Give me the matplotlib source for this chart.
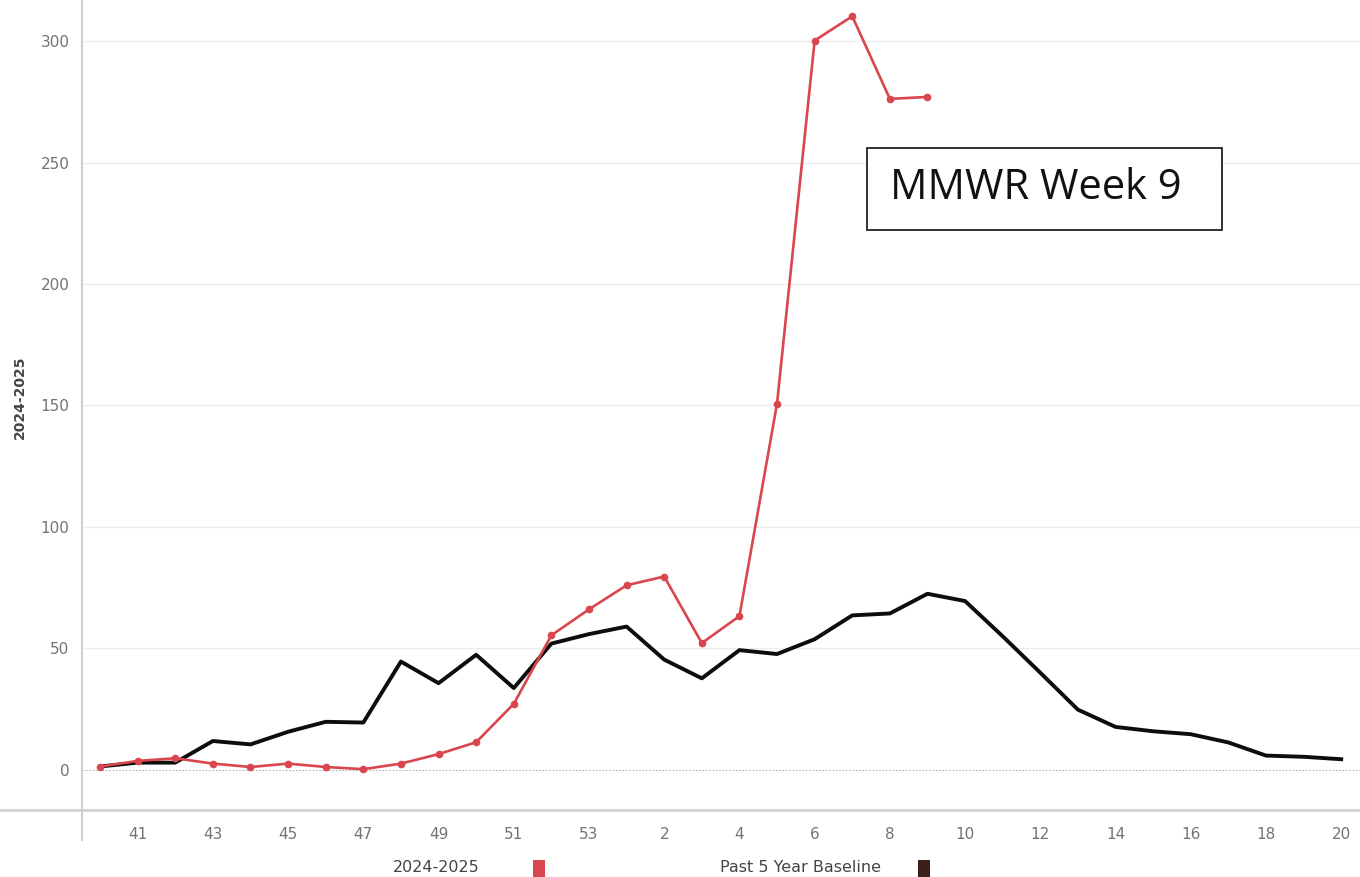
import numpy as np
import matplotlib.pyplot as plt
from matplotlib.lines import Line2D
from matplotlib.patches import Rectangle

# MMWR weeks, season 40 -> 20
weeks = list(range(40, 54)) + list(range(1, 21))
tick_labels = [str(w) if w % 2 == 0 and w < 40 else (str(w) if w % 2 == 1 and w >= 40 else '') for w in weeks]

# 2024-2025 season (through week 9)
season_2425 = [1.4, 3.7, 4.8, 2.6, 1.2, 2.6, 1.2, 0.3, 2.6, 6.5, 11.4, 27.2,
               55.4, 66.1, 76.0, 79.6, 52.2, 63.3, 150.8, 300.2, 310.2, 276.2, 277.0]

# past 5 year baseline
baseline = [1.4, 3.0, 3.0, 11.9, 10.5, 15.7, 19.8, 19.5, 44.6, 35.7, 47.4, 33.7,
            52.0, 55.9, 59.0, 45.4, 37.7, 49.3, 47.7, 53.8, 63.6, 64.4, 72.5, 69.5,
            55.0, 40.0, 24.8, 17.7, 15.9, 14.7, 11.3, 5.9, 5.4, 4.4]

red = '#d9464e'
dark = '#0d0d0d'
grey_txt = '#737373'

W, H = 1360, 877
fig = plt.figure(figsize=(W / 100, H / 100), dpi=100)
ax = fig.add_axes([82 / W, (H - 810) / H, 1 - 82 / W, 810 / H])

x = np.arange(len(weeks))
ax.plot(x, baseline, color=dark, lw=2.8, zorder=3)
ax.plot(x[:len(season_2425)], season_2425, color=red, lw=1.9, marker='o',
        markersize=4.5, zorder=4)

ax.set_xlim(-0.48, 33.5)
ax.set_ylim(-16.5, 316.9)

ax.set_yticks([0, 50, 100, 150, 200, 250, 300])
for yv in [50, 100, 150, 200, 250, 300]:
    ax.axhline(yv, color='#ededed', lw=1, zorder=1)
ax.axhline(0, color='#b5b5b5', lw=0.8, ls=(0, (1.5, 1.5)), zorder=1)

ax.set_xticks(x)
ax.set_xticklabels(tick_labels)
ax.tick_params(length=0, labelsize=11, labelcolor=grey_txt)
ax.tick_params(axis='x', pad=12)
ax.tick_params(axis='y', pad=9)
for s in ax.spines.values():
    s.set_visible(False)

ax.set_ylabel('2024-2025', fontsize=10, color='#444444', fontweight='bold')
ax.yaxis.set_label_coords(-0.043, 0.51)

# axis lines (Tableau style, extending past the plot area)
fig.add_artist(Line2D([82 / W, 82 / W], [(H - 840) / H, 1], color='#d0d0d0', lw=1.5))
fig.add_artist(Line2D([0, 1], [(H - 810) / H, (H - 810) / H], color='#d0d0d0', lw=2))

# annotation box
fig.add_artist(Rectangle((867 / W, (H - 230) / H), 355 / W, 82 / H, transform=fig.transFigure,
                         facecolor='white', edgecolor='#222222', lw=1.3, zorder=5))
fig.text(890 / W, (H - 188) / H, 'MMWR Week 9', fontsize=30, family='Open Sans',
         va='center', ha='left', color='#111111', zorder=6)

# legend at bottom
fig.text(436 / W, (H - 867) / H, '2024-2025', fontsize=11.5, color='#444444',
         ha='center', va='center')
fig.add_artist(Rectangle((533 / W, 0), 12 / W, 17 / H, transform=fig.transFigure,
                         facecolor=red, edgecolor='none'))
fig.text(801 / W, (H - 867) / H, 'Past 5 Year Baseline', fontsize=11.5, color='#444444',
         ha='center', va='center')
fig.add_artist(Rectangle((918 / W, 0), 12 / W, 17 / H, transform=fig.transFigure,
                         facecolor='#3a2019', edgecolor='none'))

fig.savefig('out.png', dpi=100)
